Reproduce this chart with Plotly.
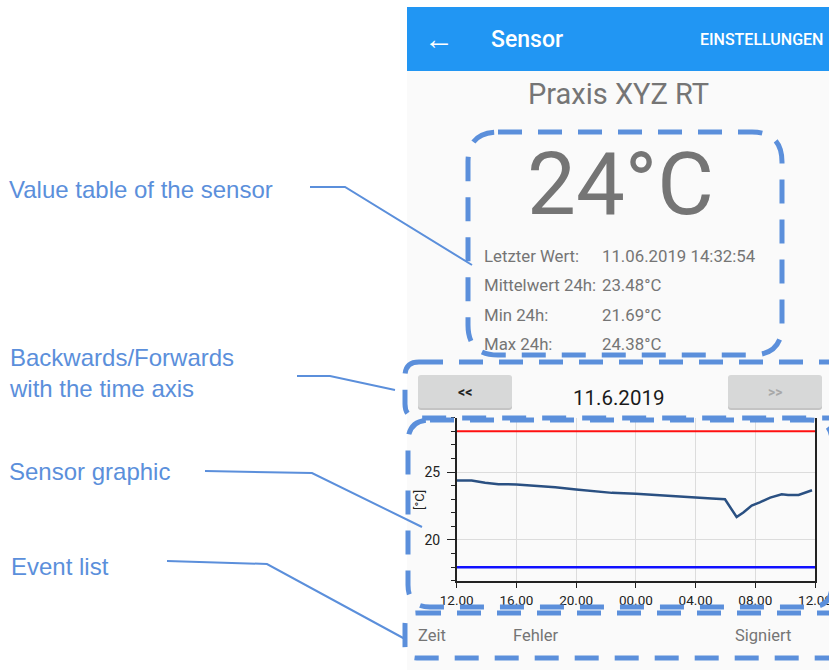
import plotly.graph_objects as go

# ---------------- data ----------------
hours = [0.0, 1.0, 1.9, 2.8, 4.0, 5.25, 6.6, 8.0, 9.25, 10.4, 12.0, 12.85, 13.96,
         15.07, 16.08, 17.08, 17.97, 18.75, 19.2, 19.76, 20.3, 21.0, 21.77, 22.2,
         22.9, 23.8]
temps = [24.38, 24.38, 24.21, 24.11, 24.09, 24.01, 23.89, 23.72, 23.57, 23.47,
         23.40, 23.34, 23.22, 23.17, 23.07, 23.05, 23.00, 21.69, 22.03, 22.53,
         22.77, 23.12, 23.37, 23.32, 23.32, 23.66]
limit_hours = [0, 24]
upper_limit = [28, 28]
lower_limit = [18, 18]
tick_hours = [0, 4, 8, 12, 16, 20, 24]
tick_labels = ["12.00", "16.00", "20.00", "00.00", "04.00", "08.00", "12.00"]

title_text = "Praxis XYZ RT"
current_value = "24°C"
table_labels = ["Letzter Wert:", "Mittelwert 24h:", "Min 24h:", "Max 24h:"]
table_values = ["11.06.2019 14:32:54", "23.48°C", "21.69°C", "24.38°C"]
event_headers = ["Zeit", "Fehler", "Signiert"]
date_text = "11.6.2019"
callouts = ["Value table of the sensor", "Backwards/Forwards<br>with the time axis",
            "Sensor graphic", "Event list"]

# ---------------- geometry helpers ----------------
W, H = 829, 670


def fx(x):
    return x / W


def fy(y):
    return 1 - y / H


def rrect(x0, y0, x1, y1, r):
    pts = [
        f"M {fx(x0 + r)},{fy(y0)}",
        f"L {fx(x1 - r)},{fy(y0)}",
        f"Q {fx(x1)},{fy(y0)} {fx(x1)},{fy(y0 + r)}",
        f"L {fx(x1)},{fy(y1 - r)}",
        f"Q {fx(x1)},{fy(y1)} {fx(x1 - r)},{fy(y1)}",
        f"L {fx(x0 + r)},{fy(y1)}",
        f"Q {fx(x0)},{fy(y1)} {fx(x0)},{fy(y1 - r)}",
        f"L {fx(x0)},{fy(y0 + r)}",
        f"Q {fx(x0)},{fy(y0)} {fx(x0 + r)},{fy(y0)}",
        "Z",
    ]
    return " ".join(pts)


def polyline(points):
    s = f"M {fx(points[0][0])},{fy(points[0][1])}"
    for (x, y) in points[1:]:
        s += f" L {fx(x)},{fy(y)}"
    return s


ANN_BLUE = "#5B8FDB"
UI_GRAY = "#757575"
UI_FONT = "Roboto"

fig = go.Figure()

fig.add_trace(go.Scatter(x=limit_hours, y=upper_limit, mode="lines",
                         line=dict(color="#FF1010", width=2), hoverinfo="skip"))
fig.add_trace(go.Scatter(x=limit_hours, y=lower_limit, mode="lines",
                         line=dict(color="#1010FF", width=2.5), hoverinfo="skip"))
fig.add_trace(go.Scatter(x=hours, y=temps, mode="lines",
                         line=dict(color="#2A5082", width=2.5), hoverinfo="skip"))

shapes = []
# phone background
shapes.append(dict(type="rect", xref="paper", yref="paper", x0=fx(407), x1=fx(829),
                   y0=fy(670), y1=fy(7), fillcolor="#FAFAFA", line=dict(width=0), layer="below"))
# app bar
shapes.append(dict(type="rect", xref="paper", yref="paper", x0=fx(407), x1=fx(829),
                   y0=fy(71), y1=fy(7), fillcolor="#2196F3", line=dict(width=0), layer="below"))
# buttons (shadow + body)
for (bx0, bx1) in [(418, 512), (728, 822)]:
    shapes.append(dict(type="path", xref="paper", yref="paper",
                       path=rrect(bx0, 376, bx1, 410, 3), fillcolor="#C4C4C4",
                       line=dict(width=0), layer="below"))
    shapes.append(dict(type="path", xref="paper", yref="paper",
                       path=rrect(bx0, 375, bx1, 408, 3), fillcolor="#D7D8D8",
                       line=dict(width=0), layer="below"))

# dashed callout boxes
dash_line = dict(color=ANN_BLUE, width=5, dash="24px,16px")
for (x0, y0, x1, y1, r) in [(468, 132, 782, 355, 30),
                            (405, 362, 850, 418, 14),
                            (408, 420, 832, 607, 22),
                            (405, 613, 850, 658, 12)]:
    shapes.append(dict(type="path", xref="paper", yref="paper", path=rrect(x0, y0, x1, y1, r),
                       line=dash_line, fillcolor="rgba(0,0,0,0)", layer="above"))

# leader lines
for pts in [[(310, 187), (345, 187), (472, 265)],
            [(297, 376), (330, 376), (395, 390)],
            [(205, 471), (312, 473), (422, 527)],
            [(167, 561), (267, 564), (405, 639)]]:
    shapes.append(dict(type="path", xref="paper", yref="paper", path=polyline(pts),
                       line=dict(color=ANN_BLUE, width=2), layer="above"))

annotations = []


def text(x, y, s, size, color, family=UI_FONT, xanchor="left", weight=None, angle=0):
    f = dict(size=size, color=color, family=family)
    if weight:
        f["weight"] = weight
    annotations.append(dict(xref="paper", yref="paper", x=fx(x), y=fy(y), text=s,
                            showarrow=False, xanchor=xanchor, yanchor="middle",
                            font=f, align="left", textangle=angle, borderpad=0))


# app bar texts
text(439, 38, "←", 30, "white", xanchor="center", weight="bold")
text(490, 40, "Sensor", 23, "white", weight=500)
text(824, 40, "EINSTELLUNGEN", 16, "white", xanchor="right", weight=500)
# title & value
text(618, 94, title_text, 29, UI_GRAY, xanchor="center")
text(620, 184, current_value, 87, UI_GRAY, xanchor="center")
# value table
for i, (lab, val) in enumerate(zip(table_labels, table_values)):
    yy = 256 + i * 29.3
    text(483, yy, lab, 16.8, UI_GRAY)
    text(601, yy, val, 16.8, UI_GRAY)
# navigation
text(465, 392, "<<", 14, "#222222", xanchor="center", weight="bold")
text(775, 392, ">>", 14, "#A8A8A8", xanchor="center", weight="bold")
text(618, 398, date_text, 20.5, "#1A1A1A", xanchor="center")
# event list headers
for s, x in zip(event_headers, [417, 512, 734]):
    text(x, 635, s, 16.5, UI_GRAY)
# callouts
ann_font = "Liberation Sans, Arial"
text(8, 189, callouts[0], 24, ANN_BLUE, family=ann_font)
text(8, 373, callouts[1], 24, ANN_BLUE, family=ann_font)
text(8, 471, callouts[2], 24, ANN_BLUE, family=ann_font)
text(10, 566, callouts[3], 24, ANN_BLUE, family=ann_font)
# y-axis unit label
text(419, 500, "[°C]", 13, "#222222", xanchor="center", angle=-90)

fig.update_layout(
    width=W, height=H, autosize=False,
    margin=dict(l=0, r=0, t=0, b=0, pad=0),
    paper_bgcolor="white", plot_bgcolor="rgba(0,0,0,0)",
    showlegend=False, shapes=shapes, annotations=annotations,
    hovermode=False,
    xaxis=dict(domain=[fx(456.7), fx(815)], range=[0, 24], tickvals=tick_hours,
               ticktext=tick_labels, showgrid=True, gridcolor="#DCDCDC", gridwidth=1,
               showline=True, linecolor="#222222", linewidth=1.5, ticks="outside",
               ticklen=6, tickcolor="#222222", zeroline=False, automargin=False,
               ticklabeloverflow="allow",
               tickfont=dict(family=UI_FONT, size=13.5, color="#222222")),
    yaxis=dict(domain=[fy(580.7), fy(417.8)], range=[17, 29], tick0=0, dtick=5,
               showgrid=True, gridcolor="#DCDCDC", gridwidth=1, showline=True,
               linecolor="#222222", linewidth=1.5, mirror=True, ticks="outside",
               ticklen=8, tickcolor="#222222", zeroline=False, automargin=False,
               ticklabelstandoff=4,
               tickfont=dict(family=UI_FONT, size=14, color="#222222"),
               minor=dict(dtick=1, ticks="outside", ticklen=4, tickcolor="#222222",
                          showgrid=False)),
)

fig.write_html("out.html", config={"displayModeBar": False},
               post_script="document.body.style.margin='0';")
